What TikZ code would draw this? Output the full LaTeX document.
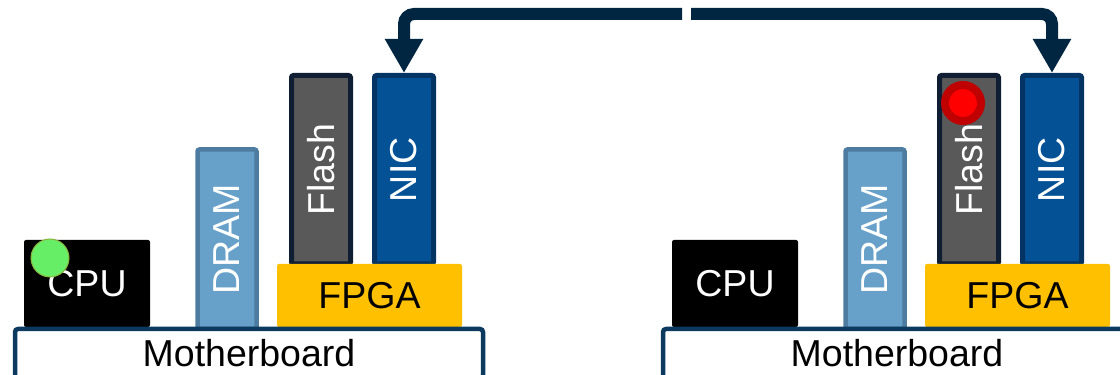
\documentclass[tikz,border=0pt]{standalone}
\usepackage{fontspec}
\setmainfont{Liberation Sans}
\usepackage{tikz}
\usetikzlibrary{positioning,calc,arrows.meta}

\definecolor{dramblue}{HTML}{67A1C9}
\definecolor{dramedge}{HTML}{4D7CA0}
\definecolor{flashgray}{HTML}{595959}
\definecolor{flashedge}{HTML}{0F1E33}
\definecolor{nicblue}{HTML}{045196}
\definecolor{nicedge}{HTML}{043464}
\definecolor{fpgagold}{HTML}{FFC000}
\definecolor{boardedge}{HTML}{0B3A5E}
\definecolor{flowblue}{HTML}{012642}
\definecolor{okgreen}{HTML}{66EE66}
\definecolor{okedge}{HTML}{8CB43C}
\definecolor{errred}{HTML}{FF0000}
\definecolor{erredge}{HTML}{C00000}

\begin{document}
\begin{tikzpicture}[x=1pt,y=1pt,
        every node/.style={font=\fontsize{37.5}{41}\selectfont, inner sep=0pt},
        cpunode/.style={rectangle, rounded corners=2pt, fill=black, text=white, minimum width=126pt, minimum height=87pt},
        dramnode/.style={rectangle, rounded corners=2pt, draw=dramedge, line width=4.5pt, fill=dramblue, text=white, minimum width=59pt, minimum height=179.5pt},
        flashnode/.style={rectangle, rounded corners=2pt, draw=flashedge, line width=5pt, fill=flashgray, text=white, minimum width=59pt, minimum height=188.5pt},
        nicnode/.style={rectangle, rounded corners=2pt, draw=nicedge, line width=5pt, fill=nicblue, text=white, minimum width=59pt, minimum height=188.5pt},
        fpganode/.style={rectangle, rounded corners=2pt, fill=fpgagold, text=black, minimum width=185pt, minimum height=63pt},
        boardnode/.style={rectangle, rounded corners=3pt, draw=boardedge, line width=4.5pt, fill=white, text=black, minimum width=468pt, minimum height=49pt},
        goodnode/.style={circle, draw=okedge, line width=1pt, fill=okgreen, minimum size=38pt},
        badnode/.style={circle, draw=erredge, line width=8pt, fill=errred, minimum size=36pt},
        flow/.style={draw=flowblue, line width=12pt, rounded corners=10pt, -{Triangle[width=36pt,length=34pt]}}
    ]

    \useasboundingbox (0,0) rectangle (1120,375);
    \clip (0,0) rectangle (1120,375);

    % Nodes (left server)
    \node[dramnode] (dramL) at (227,135.75) {\rotatebox{90}{DRAM}};
    \node[flashnode] (flashL) at (321,205.25) {\rotatebox{90}{Flash}};
    \node[nicnode] (nicL) at (404,205.25) {\rotatebox{90}{NIC}};
    \node[fpganode] (fpgaL) at (369.5,79.5) {FPGA};
    \node[cpunode] (cpuL) at (87,91.5) {CPU};
    \node[boardnode] (boardL) at (249,21.5) {Motherboard};
    \node[goodnode] (okL) at (50,117) {};

    % Nodes (right server)
    \node[dramnode] (dramR) at (875,135.75) {\rotatebox{90}{DRAM}};
    \node[flashnode] (flashR) at (969,205.25) {\rotatebox{90}{Flash}};
    \node[nicnode] (nicR) at (1052,205.25) {\rotatebox{90}{NIC}};
    \node[fpganode] (fpgaR) at (1017.5,79.5) {FPGA};
    \node[cpunode] (cpuR) at (735,91.5) {CPU};
    \node[boardnode] (boardR) at (897,21.5) {Motherboard};
    \node[badnode] (errR) at (963,272) {};

    % Edges
    \coordinate (gapL) at (682,361);
    \coordinate (gapR) at (691,361);
    \draw[flow] (gapL) -| (nicL.north);
    \draw[flow] (gapR) -| (nicR.north);
    \end{tikzpicture}
\end{document}
